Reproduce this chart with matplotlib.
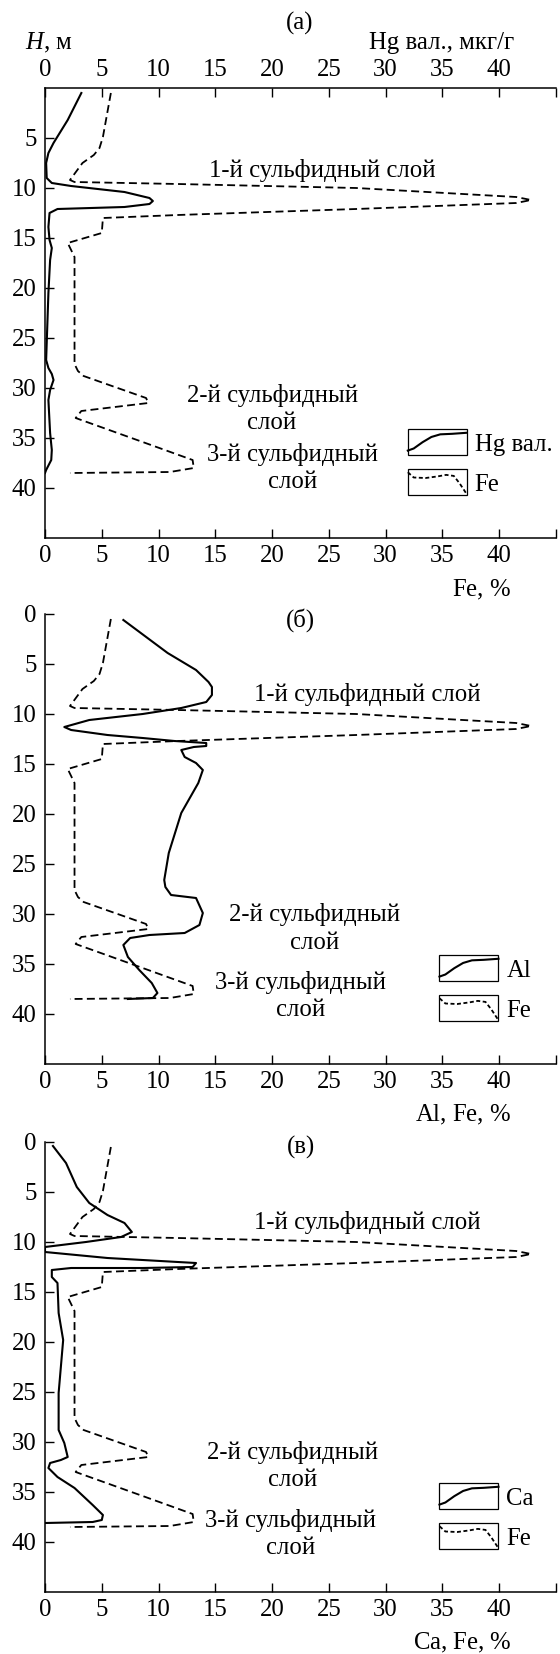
import numpy as np
import matplotlib
matplotlib.use("Agg")
import matplotlib.pyplot as plt
from matplotlib.legend_handler import HandlerBase
from matplotlib.patches import Rectangle
from matplotlib.lines import Line2D

plt.rcParams['font.family'] = ['Liberation Serif', 'DejaVu Serif']
plt.rcParams['mathtext.fontset'] = 'custom'
plt.rcParams['mathtext.rm'] = 'Liberation Serif'
plt.rcParams['mathtext.it'] = 'Liberation Serif:italic'

# === данные ===
# Fe, % (одинаково на всех трёх панелях)
FE_H = [0.5, 4.9, 6.0, 6.7, 7.5, 9.2, 9.4, 9.6, 10.0, 10.9, 11.2, 11.5, 12.1, 12.7,
        13.0, 14.5, 15.5, 16.9, 27.6, 28.3, 28.8, 31.0, 31.5, 32.3, 33.0, 35.4,
        37.2, 38.0, 38.4, 38.5]
FE = [5.8, 5.1, 4.8, 4.3, 3.3, 2.2, 2.6, 11.7, 27.4, 41.5, 42.8, 41.5, 27.4, 11.7,
      5.1, 5.0, 2.0, 2.6, 2.6, 2.9, 3.4, 8.9, 9.1, 3.2, 2.7, 8.6,
      13.0, 13.1, 11.0, 2.2]

# Hg вал., мкг/г
HG_H = [0.5, 3.2, 5.5, 6.5, 7.5, 9.0, 9.5, 9.8, 10.4, 11.0, 11.3, 11.6, 11.9, 12.1,
        12.5, 13.9, 15.2, 16.0, 17.2, 20.5, 27.2, 28.0, 28.6, 29.2, 30.2, 31.2,
        34.5, 36.2, 37.2, 38.2, 38.5]
HG = [3.2, 2.0, 0.75, 0.3, 0.1, 0.15, 0.6, 2.3, 7.0, 9.2, 9.5, 9.2, 7.0, 1.1,
      0.4, 0.3, 0.4, 0.6, 0.45, 0.3, 0.1, 0.3, 0.6, 0.75, 0.45, 0.3,
      0.45, 0.6, 0.55, 0.1, 0.0]

# Al, %
AL_H = [0.6, 3.9, 5.6, 6.8, 7.3, 8.1, 8.8, 9.4, 10.0, 10.6, 11.3, 11.6, 12.1, 12.4,
        12.7, 12.9, 13.2, 13.3, 13.6, 14.3, 14.9, 15.6, 16.9, 19.9, 23.9, 26.6,
        27.3, 28.1, 28.4, 29.9, 31.1, 31.9, 32.1, 32.4, 33.1, 34.3, 35.6, 36.9,
        37.9, 38.4, 38.5]
AL = [6.9, 10.8, 13.3, 14.4, 14.7, 14.7, 14.2, 12.0, 8.6, 3.9, 1.7, 2.3, 5.5, 8.6,
      11.4, 14.2, 14.2, 13.1, 12.0, 12.3, 13.3, 13.9, 13.5, 12.0, 10.9, 10.5,
      10.6, 11.1, 13.3, 13.9, 13.6, 12.3, 9.2, 7.5, 6.9, 7.3, 8.3, 9.4,
      9.9, 9.5, 7.3]

# Ca, %
CA_H = [0.4, 2.1, 4.5, 6.1, 7.3, 8.1, 9.0, 9.5, 10.0, 10.5, 11.0, 11.6, 12.0, 12.1,
        12.5, 12.6, 12.6, 12.8, 13.5, 14.1, 17.1, 19.8, 25.1, 28.8, 30.1, 31.5,
        31.8, 32.1, 32.6, 33.5, 34.6, 36.3, 37.3, 37.8, 38.0, 38.1]
CA = [0.7, 1.85, 2.8, 3.9, 5.5, 7.0, 7.65, 6.7, 3.6, 0.0, 0.0, 5.5, 11.7, 13.3,
      13.0, 8.6, 2.3, 0.6, 0.6, 1.1, 1.2, 1.6, 1.2, 1.2, 1.7, 2.0,
      1.4, 0.45, 0.3, 1.1, 2.6, 4.2, 5.1, 5.0, 4.2, 0.0]

X_TICKS = [0, 5, 10, 15, 20, 25, 30, 35, 40, 45]
X_LABELS = ['0', '5', '10', '15', '20', '25', '30', '35', '40', '']

FS = 17.8
LW_SOLID = 1.5
LW_DASH = 1.3
DASH = (4.4, 2.4)
FS_PX = FS * 100 / 72.0


class BoxedCurve(HandlerBase):
    """значок легенды: рамка с кривой внутри"""
    def __init__(self, gx, gy):
        super().__init__()
        self.gx = np.asarray(gx)
        self.gy = np.asarray(gy)

    def create_artists(self, legend, orig_handle, xdescent, ydescent,
                       width, height, fontsize, trans):
        x0, y0 = -xdescent, -ydescent
        box = Rectangle((x0, y0), width, height, fill=False, ec='black',
                        lw=0.9, transform=trans)
        line = Line2D(x0 + self.gx * width, y0 + self.gy * height)
        line.update_from(orig_handle)
        line.set_transform(trans)
        return [box, line]


SOLID_GLYPH = BoxedCurve([0.0, 0.1, 0.25, 0.4, 0.55, 0.75, 1.0],
                         [0.18, 0.26, 0.5, 0.7, 0.8, 0.82, 0.86])
DASH_GLYPH = BoxedCurve([0.0, 0.1, 0.3, 0.5, 0.65, 0.78, 0.88, 1.0],
                        [0.88, 0.68, 0.66, 0.72, 0.78, 0.74, 0.45, 0.04])


def setup_axis(ax, with_top, yticks):
    ax.set_xlim(0, 45)
    ax.set_ylim(45, 0)
    ax.set_xticks(X_TICKS)
    ax.set_xticklabels(X_LABELS)
    ax.set_yticks(yticks)
    ax.set_yticklabels([str(t) for t in yticks])
    ax.spines['right'].set_visible(False)
    ax.spines['top'].set_visible(with_top)
    for s in ax.spines.values():
        s.set_linewidth(1.1)
    ax.tick_params(axis='x', direction='in', length=6.5, width=1.0, pad=5,
                   labelsize=FS, top=with_top, labeltop=with_top,
                   bottom=True, labelbottom=True)
    ax.tick_params(axis='y', direction='in', length=6.5, width=1.0, pad=6,
                   labelsize=FS, left=True, right=False)


def draw_panel(ax, x, h, layers):
    ax.plot(FE, FE_H, color='black', lw=LW_DASH, ls='--', dashes=DASH)
    ax.plot(x, h, color='black', lw=LW_SOLID)
    for (tx, ty, txt) in layers:
        ax.text(tx, ty, txt, fontsize=FS, ha='center', va='center',
                linespacing=1.3, multialignment='center')
    h_solid = Line2D([], [], color='black', lw=LW_SOLID)
    h_dash = Line2D([], [], color='black', lw=LW_DASH, ls='--', dashes=(2.2, 1.4))
    return h_solid, h_dash


def add_legend(ax, hs, hd, name, xa):
    ax.legend([hs, hd], [name, 'Fe'], loc='upper left',
              bbox_to_anchor=(xa, 0.242), frameon=False, fontsize=FS,
              borderpad=0, borderaxespad=0, handlelength=59 / FS_PX,
              handleheight=31 / FS_PX, labelspacing=0.55,
              handletextpad=8 / FS_PX,
              handler_map={hs: SOLID_GLYPH, hd: DASH_GLYPH})


fig = plt.figure(figsize=(5.6, 16.54), dpi=100)
W, H = 560.0, 1654.0
ax_left, ax_w = 45 / W, 511 / W
tops = [88, 614, 1142]
axes = [fig.add_axes([ax_left, 1 - (t + 450) / H, ax_w, 450 / H]) for t in tops]

# (а)
ax = axes[0]
setup_axis(ax, True, [5, 10, 15, 20, 25, 30, 35, 40])
hs, hd = draw_panel(ax, HG, HG_H, [
    (24.4, 8.2, '1-й сульфидный слой'),
    (20.0, 32.1, '2-й сульфидный\nслой'),
    (21.8, 38.0, '3-й сульфидный\nслой')])
add_legend(ax, hs, hd, 'Hg вал.', 0.710)
ax.text(41.06, -0.115, 'Fe, $\\mathit{\\%}$', transform=ax.get_xaxis_transform(),
        fontsize=FS, ha='right', va='center')
fig.text(25 / W, 1 - 43 / H, '$H$, м', fontsize=FS, ha='left', va='center')
fig.text(514 / W, 1 - 43 / H, 'Hg вал., мкг/г', fontsize=FS, ha='right', va='center')
fig.text(300 / W, 1 - 23 / H, '(а)', fontsize=FS, ha='center', va='center')

# (б)
ax = axes[1]
setup_axis(ax, False, [0, 5, 10, 15, 20, 25, 30, 35, 40])
hs, hd = draw_panel(ax, AL, AL_H, [
    (28.4, 8.1, '1-й сульфидный слой'),
    (23.7, 31.45, '2-й сульфидный\nслой'),
    (22.5, 38.2, '3-й сульфидный\nслой')])
add_legend(ax, hs, hd, 'Al', 0.772)
ax.text(22.5, 0.6, '(б)', fontsize=FS, ha='center', va='center')
ax.text(41.06, -0.113, 'Al, Fe, $\\mathit{\\%}$', transform=ax.get_xaxis_transform(),
        fontsize=FS, ha='right', va='center')

# (в)
ax = axes[2]
setup_axis(ax, False, [0, 5, 10, 15, 20, 25, 30, 35, 40])
hs, hd = draw_panel(ax, CA, CA_H, [
    (28.4, 8.1, '1-й сульфидный слой'),
    (21.8, 32.4, '2-й сульфидный\nслой'),
    (21.6, 39.2, '3-й сульфидный\nслой')])
add_legend(ax, hs, hd, 'Ca', 0.772)
ax.text(22.5, 0.5, '(в)', fontsize=FS, ha='center', va='center')
ax.text(41.06, -0.113, 'Ca, Fe, $\\mathit{\\%}$', transform=ax.get_xaxis_transform(),
        fontsize=FS, ha='right', va='center')

fig.savefig("out.png", dpi=100)
